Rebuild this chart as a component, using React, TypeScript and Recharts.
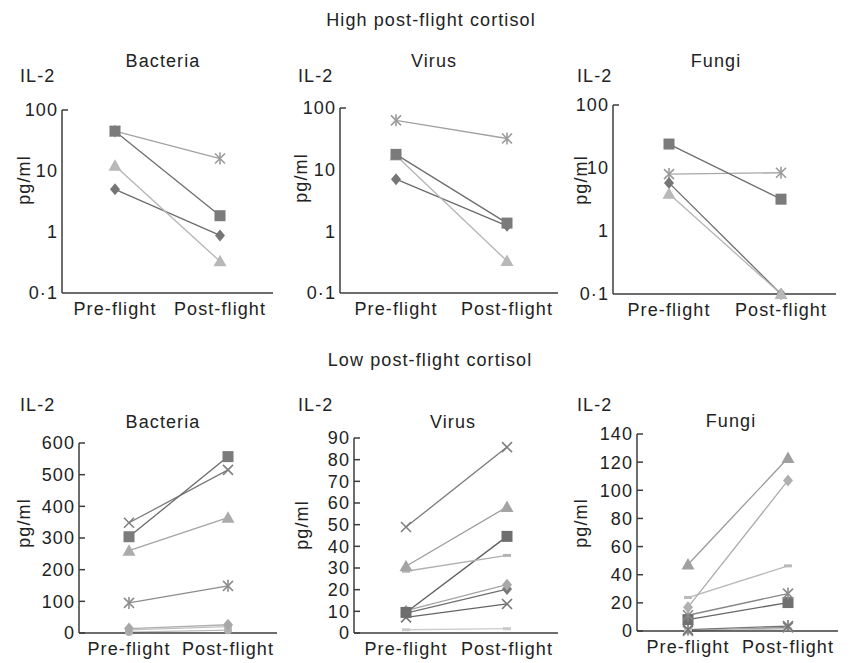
import React from 'react'
import { LineChart, Line, XAxis, YAxis } from 'recharts'

const categories = ['Pre-flight', 'Post-flight']

// y ticks
const logTicks = [0.1, 1, 10, 100]
const bacteriaLowTicks = [0, 100, 200, 300, 400, 500, 600]
const virusLowTicks = [0, 10, 20, 30, 40, 50, 60, 70, 80, 90]
const fungiLowTicks = [0, 20, 40, 60, 80, 100, 120, 140]

// high post-flight cortisol, [pre, post] per subject (log scale)
const highBacteria = [[45, 1.85], [45, 16], [12.2, 0.33], [5, 0.88]]
const highVirus = [[63, 32], [17.7, 1.36], [17, 0.33], [7, 1.23]]
const highFungi = [[24, 3.2], [8, 8.4], [5.8, 0.1], [3.9, 0.1]]

// low post-flight cortisol
const lowBacteria = [[304, 557], [348, 515], [260, 364], [95, 149], [14, 26], [10, 20], [3, 9]]
const lowVirus = [[48.9, 85.8], [30.8, 58.2], [28.5, 35.8], [9.5, 44.6], [10.3, 22.3], [9.2, 20.3], [7.2, 13.4], [1.5, 2.0]]
const lowFungi = [[47.3, 122.9], [16.9, 107], [23.8, 46.3], [11.2, 26.6], [8.1, 20.2], [1, 3.5], [0.5, 1.5], [0, 2.5]]

const FONT = '"Liberation Sans", Arial, sans-serif'
const TEXT = '#222'
const AXIS = '#3c3c3c'

type Mark = { shape: string; fill: string; line: string }

const highBacteriaMarks: Mark[] = [
  { shape: 'square', fill: '#7b7b7b', line: '#6e6e6e' },
  { shape: 'asterisk', fill: '#9a9a9a', line: '#a2a2a2' },
  { shape: 'triangle', fill: '#b8b8b8', line: '#b4b4b4' },
  { shape: 'diamond', fill: '#767676', line: '#6c6c6c' },
]
const highVirusMarks: Mark[] = [
  { shape: 'asterisk', fill: '#9a9a9a', line: '#a2a2a2' },
  { shape: 'square', fill: '#7b7b7b', line: '#6e6e6e' },
  { shape: 'triangle', fill: '#b8b8b8', line: '#b4b4b4' },
  { shape: 'diamond', fill: '#767676', line: '#6c6c6c' },
]
const highFungiMarks: Mark[] = [
  { shape: 'square', fill: '#7b7b7b', line: '#6e6e6e' },
  { shape: 'asterisk', fill: '#9a9a9a', line: '#a8a8a8' },
  { shape: 'diamond', fill: '#767676', line: '#6c6c6c' },
  { shape: 'triangle', fill: '#b8b8b8', line: '#b4b4b4' },
]
const lowBacteriaMarks: Mark[] = [
  { shape: 'square', fill: '#7b7b7b', line: '#6a6a6a' },
  { shape: 'x', fill: '#808080', line: '#7a7a7a' },
  { shape: 'triangle', fill: '#ababab', line: '#a4a4a4' },
  { shape: 'asterisk', fill: '#8e8e8e', line: '#8c8c8c' },
  { shape: 'diamond', fill: '#a8a8a8', line: '#b0b0b0' },
  { shape: 'dash', fill: '#bcbcbc', line: '#c0c0c0' },
  { shape: 'circle', fill: '#b0b0b0', line: '#bcbcbc' },
]
const lowVirusMarks: Mark[] = [
  { shape: 'x', fill: '#808080', line: '#7a7a7a' },
  { shape: 'triangle', fill: '#a4a4a4', line: '#9c9c9c' },
  { shape: 'dash', fill: '#b4b4b4', line: '#b0b0b0' },
  { shape: 'square', fill: '#6e6e6e', line: '#5e5e5e' },
  { shape: 'diamond', fill: '#a8a8a8', line: '#a4a4a4' },
  { shape: 'diamond', fill: '#777', line: '#707070' },
  { shape: 'x', fill: '#777', line: '#666' },
  { shape: 'dash', fill: '#cacaca', line: '#cccccc' },
]
const lowFungiMarks: Mark[] = [
  { shape: 'triangle', fill: '#a0a0a0', line: '#9a9a9a' },
  { shape: 'diamond', fill: '#b0b0b0', line: '#acacac' },
  { shape: 'dash', fill: '#bababa', line: '#b8b8b8' },
  { shape: 'asterisk', fill: '#8a8a8a', line: '#868686' },
  { shape: 'square', fill: '#707070', line: '#666' },
  { shape: 'asterisk', fill: '#777', line: '#777' },
  { shape: 'dash', fill: '#c4c4c4', line: '#c4c4c4' },
  { shape: 'x', fill: '#888', line: '#8a8a8a' },
]

function Marker({ cx, cy, shape, fill }: { cx?: number; cy?: number; shape: string; fill: string }) {
  if (cx == null || cy == null || isNaN(cx) || isNaN(cy)) return null
  switch (shape) {
    case 'square':
      return <rect x={cx - 5.5} y={cy - 5.5} width={11} height={11} fill={fill} />
    case 'diamond':
      return <polygon points={`${cx},${cy - 6} ${cx + 5},${cy} ${cx},${cy + 6} ${cx - 5},${cy}`} fill={fill} />
    case 'triangle':
      return <polygon points={`${cx},${cy - 6.5} ${cx + 6.5},${cy + 5} ${cx - 6.5},${cy + 5}`} fill={fill} />
    case 'x':
      return (
        <g stroke={fill} strokeWidth={1.6}>
          <line x1={cx - 5} y1={cy - 5} x2={cx + 5} y2={cy + 5} />
          <line x1={cx - 5} y1={cy + 5} x2={cx + 5} y2={cy - 5} />
        </g>
      )
    case 'asterisk':
      return (
        <g stroke={fill} strokeWidth={1.6}>
          <line x1={cx - 5} y1={cy - 5} x2={cx + 5} y2={cy + 5} />
          <line x1={cx - 5} y1={cy + 5} x2={cx + 5} y2={cy - 5} />
          <line x1={cx} y1={cy - 6} x2={cx} y2={cy + 6} />
        </g>
      )
    case 'dash':
      return <line x1={cx - 4} y1={cy} x2={cx + 4} y2={cy} stroke={fill} strokeWidth={3} />
    default:
      return <circle cx={cx} cy={cy} r={4} fill={fill} />
  }
}

const fmtLog = (v: number) => (v < 1 ? String(v).replace('.', '·') : String(v))
const fmtLin = (v: number) => String(v)

const makeYTick = (fmt: (v: number) => string, topOnly: boolean, topValue: number) => (props: any) => {
  const { x, y, payload } = props
  const mark = !topOnly || payload.value === topValue
  return (
    <g>
      {mark && <line x1={x + 4} x2={x + 10} y1={y} y2={y} stroke={AXIS} strokeWidth={1.5} />}
      <text x={x} y={y} dy="0.36em" textAnchor="end" fill={TEXT} fontSize={18} fontFamily={FONT} letterSpacing={1.1}>
        {fmt(payload.value)}
      </text>
    </g>
  )
}

type Box = { x: number; right: number; top: number; bottom: number; padL: number; padR: number }

// order: series indices in drawing order, last one ends up on top
function Panel({ values, marks, box, log, ticks, order }: {
  values: number[][]; marks: Mark[]; box: Box; log?: boolean; ticks: number[]; order?: number[]
}) {
  const data = categories.map((c, i) => {
    const row: any = { cat: c }
    values.forEach((v, j) => { row['s' + j] = v[i] })
    return row
  })
  const ML = 60, MT = 12, XH = 35, MR = 10
  const w = box.right - box.x + ML + MR
  const h = box.bottom - box.top + MT + XH
  const idx = order ?? values.map((_, j) => j).reverse()
  const top = ticks[ticks.length - 1]
  return (
    <div style={{ position: 'absolute', left: box.x - ML, top: box.top - MT }}>
      <LineChart width={w} height={h} data={data} margin={{ top: MT, right: MR, bottom: 0, left: 0 }}>
        <XAxis
          dataKey="cat"
          padding={{ left: box.padL, right: box.padR }}
          interval={0}
          tickLine={false}
          tickSize={0}
          tickMargin={9}
          height={XH}
          axisLine={{ stroke: AXIS, strokeWidth: 1.5 }}
          tick={{ fill: TEXT, fontSize: 18, fontFamily: FONT, letterSpacing: 1.1 }}
        />
        <YAxis
          width={ML}
          type="number"
          scale={log ? 'log' : 'linear'}
          domain={[ticks[0], top]}
          ticks={ticks}
          tickLine={false}
          tickSize={0}
          tickMargin={4}
          interval={0}
          axisLine={{ stroke: AXIS, strokeWidth: 1.5 }}
          tick={makeYTick(log ? fmtLog : fmtLin, !!log, top)}
        />
        {idx.map(j => (
          <Line
            key={j}
            type="linear"
            dataKey={'s' + j}
            stroke={marks[j].line}
            strokeWidth={1.3}
            isAnimationActive={false}
            activeDot={false}
            dot={(p: any) => (
              <Marker key={`d${j}-${p.index}`} cx={p.cx} cy={p.cy} shape={marks[j].shape} fill={marks[j].fill} />
            )}
          />
        ))}
      </LineChart>
    </div>
  )
}

const txt = { fill: TEXT, fontSize: 18, fontFamily: FONT, letterSpacing: 1.1 }

function Labels() {
  const il2 = [[20, 82], [298, 82], [577, 82], [20, 411], [298, 411], [577, 411]]
  const pg = [[24, 180], [301, 178], [581, 180], [24, 523], [302, 525], [581, 523]]
  const titles: [string, number, number][] = [
    ['Bacteria', 163, 67], ['Virus', 434, 67], ['Fungi', 716, 67],
    ['Bacteria', 163, 428], ['Virus', 453, 428], ['Fungi', 731, 427],
  ]
  return (
    <svg width={855} height={663} style={{ position: 'absolute', left: 0, top: 0, pointerEvents: 'none' }}>
      <text x={431} y={26} textAnchor="middle" {...txt}>High post-flight cortisol</text>
      <text x={430} y={366} textAnchor="middle" {...txt}>Low post-flight cortisol</text>
      {il2.map(([x, y], i) => <text key={'il' + i} x={x} y={y} {...txt}>IL-2</text>)}
      {titles.map(([t, x, y], i) => <text key={'t' + i} x={x} y={y} textAnchor="middle" {...txt}>{t}</text>)}
      {pg.map(([x, y], i) => (
        <text key={'pg' + i} x={x} y={y} textAnchor="middle" dominantBaseline="central" transform={`rotate(-90 ${x} ${y})`} {...txt}>pg/ml</text>
      ))}
    </svg>
  )
}

export default function App() {
  return (
    <div style={{ position: 'absolute', left: 0, top: 0, width: 855, height: 663, background: '#fff', overflow: 'hidden' }}>
      <Panel values={highBacteria} marks={highBacteriaMarks} log ticks={logTicks}
        box={{ x: 62, right: 273, top: 110, bottom: 293, padL: 53, padR: 53 }} />
      <Panel values={highVirus} marks={highVirusMarks} log ticks={logTicks}
        box={{ x: 340, right: 558, top: 108, bottom: 293, padL: 56, padR: 51 }} />
      <Panel values={highFungi} marks={highFungiMarks} log ticks={logTicks} order={[1, 0, 2, 3]}
        box={{ x: 613, right: 836, top: 105, bottom: 294, padL: 56, padR: 55 }} />
      <Panel values={lowBacteria} marks={lowBacteriaMarks} ticks={bacteriaLowTicks}
        box={{ x: 79, right: 277, top: 443, bottom: 633, padL: 50, padR: 49 }} />
      <Panel values={lowVirus} marks={lowVirusMarks} ticks={virusLowTicks}
        box={{ x: 354, right: 558, top: 438, bottom: 633, padL: 52, padR: 51 }} />
      <Panel values={lowFungi} marks={lowFungiMarks} ticks={fungiLowTicks}
        box={{ x: 637, right: 838, top: 434, bottom: 631, padL: 51, padR: 50 }} />
      <Labels />
    </div>
  )
}
